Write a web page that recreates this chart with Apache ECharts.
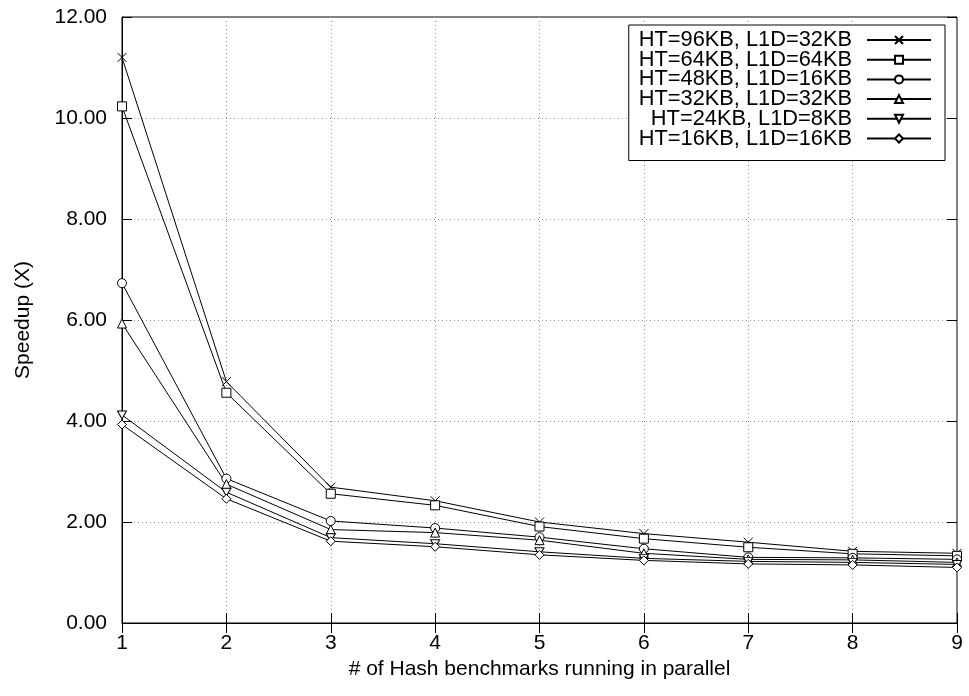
<!DOCTYPE html>
<html>
<head>
<meta charset="utf-8">
<script src="https://cdn.jsdelivr.net/npm/echarts@6/dist/echarts.min.js"></script>
<style>
    html, body {margin: 0; padding: 0; background: #fff;}
    #chart {width: 969px; height: 696px;}
</style>
</head>
<body>
<div id="chart"></div>
<script>
//数据
var xValues = [1, 2, 3, 4, 5, 6, 7, 8, 9];
var names = ['HT=96KB, L1D=32KB', 'HT=64KB, L1D=64KB', 'HT=48KB, L1D=16KB',
    'HT=32KB, L1D=32KB', 'HT=24KB, L1D=8KB', 'HT=16KB, L1D=16KB'];
var ht96 = [11.20, 4.78, 2.69, 2.42, 2.00, 1.77, 1.60, 1.42, 1.38];
var ht64 = [10.23, 4.56, 2.56, 2.33, 1.91, 1.67, 1.50, 1.37, 1.33];
var ht48 = [6.73, 2.86, 2.02, 1.88, 1.70, 1.47, 1.30, 1.29, 1.26];
var ht32 = [5.93, 2.75, 1.85, 1.79, 1.64, 1.38, 1.26, 1.25, 1.20];
var ht24 = [4.12, 2.59, 1.69, 1.57, 1.41, 1.28, 1.22, 1.20, 1.16];
var ht16 = [3.93, 2.46, 1.62, 1.51, 1.35, 1.24, 1.17, 1.15, 1.10];

var seriesValues = [ht96, ht64, ht48, ht32, ht24, ht16];
var symbols = [
    'path://M0,0L10,10M10,0L0,10',   // ×
    'rect',
    'circle',
    'triangle',
    'path://M0,0L10,0L5,8.66Z',      // 倒三角
    'diamond'
];

var font = "'Liberation Sans', Arial, sans-serif";
var gridLine = {show: true, lineStyle: {color: '#909090', type: [1, 3], width: 1}};

var myChart = echarts.init(document.getElementById('chart'));

var series = seriesValues.map(function (vals, i) {
    return {
        name: names[i],
        type: 'line',
        data: vals.map(function (v, j) { return [xValues[j], v]; }),
        symbol: symbols[i],
        symbolSize: i === 4 ? [9, 8] : 9,
        showAllSymbol: true,
        lineStyle: {color: '#000', width: 1},
        itemStyle: {color: '#fff', borderColor: '#000', borderWidth: 1},
        emphasis: {disabled: true},
        z: 3
    };
});

var option = {
    animation: false,
    backgroundColor: '#fff',
    textStyle: {fontFamily: font, color: '#000'},
    grid: {
        left: 122, right: 12, top: 17, bottom: 73,
        show: true, borderColor: '#000', borderWidth: 1, backgroundColor: 'transparent'
    },
    legend: {
        orient: 'vertical',
        right: 24,
        top: 25,
        align: 'right',
        itemWidth: 64,
        itemHeight: 10,
        itemGap: -2.3,
        padding: [4, 13, 11, 10],
        backgroundColor: '#fff',
        borderColor: '#000',
        borderWidth: 1,
        selectedMode: false,
        textStyle: {fontSize: 21.8, fontFamily: font, color: '#000', padding: [0, 10, 0, 0]},
        data: names
    },
    xAxis: [{
        type: 'value',
        min: 1, max: 9, interval: 1,
        name: '# of Hash benchmarks running in parallel',
        nameLocation: 'middle',
        nameGap: 36,
        nameTextStyle: {fontSize: 21, fontFamily: font, color: '#000'},
        axisLine: {show: true, onZero: false, lineStyle: {color: '#000'}},
        axisTick: {show: true, inside: true, length: 10, lineStyle: {color: '#000'}},
        axisLabel: {fontSize: 21, fontFamily: font, color: '#000', margin: 10},
        splitLine: gridLine
    }, {
        type: 'value', position: 'top',
        min: 1, max: 9, interval: 1,
        axisLine: {show: false},
        axisTick: {show: true, inside: true, length: 10, lineStyle: {color: '#000'}},
        axisLabel: {show: false},
        splitLine: {show: false}
    }],
    yAxis: [{
        type: 'value',
        min: 0, max: 12, interval: 2,
        name: 'Speedup (X)',
        nameLocation: 'middle',
        nameGap: 88,
        nameTextStyle: {fontSize: 21, fontFamily: font, color: '#000'},
        axisLine: {show: true, lineStyle: {color: '#000'}},
        axisTick: {show: true, inside: true, length: 10, lineStyle: {color: '#000'}},
        axisLabel: {
            fontSize: 21, fontFamily: font, color: '#000', margin: 15,
            formatter: function (v) { return v.toFixed(2); }
        },
        splitLine: gridLine
    }, {
        type: 'value', position: 'right',
        min: 0, max: 12, interval: 2,
        axisLine: {show: false},
        axisTick: {show: true, inside: true, length: 10, lineStyle: {color: '#000'}},
        axisLabel: {show: false},
        splitLine: {show: false}
    }],
    series: series
};

myChart.setOption(option);
</script>
</body>
</html>
